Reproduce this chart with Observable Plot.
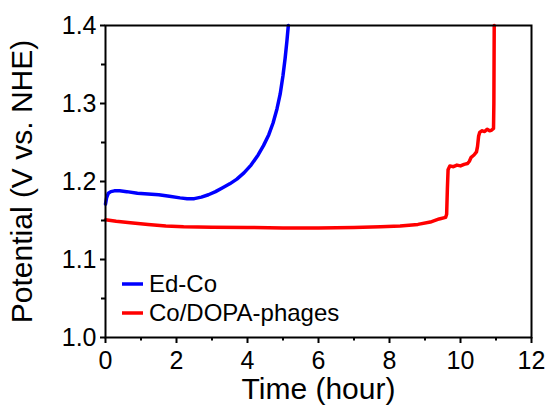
<!DOCTYPE html>
<html>
<head>
<meta charset="utf-8">
<script src="https://cdn.jsdelivr.net/npm/d3@7"></script>
<script src="https://cdn.jsdelivr.net/npm/@observablehq/plot@0.6"></script>
<style>
  html, body { margin: 0; padding: 0; background: #fff; }
  #chart svg { display: block; }
</style>
</head>
<body>
<div id="chart"></div>
<script>
// Chronopotentiometry traces: potential (V vs. NHE) over time (hours)
const edCoTime = [0, 0.03, 0.08, 0.15, 0.25, 0.4, 0.6, 0.9, 1.2, 1.5, 1.8, 2.1, 2.3, 2.5, 2.7, 2.9, 3.1, 3.3, 3.5, 3.7, 3.9, 4.1, 4.3, 4.45, 4.6, 4.72, 4.83, 4.92, 5.0, 5.06, 5.11, 5.15];
const edCoPotential = [1.171, 1.179, 1.185, 1.187, 1.188, 1.188, 1.187, 1.185, 1.184, 1.183, 1.181, 1.179, 1.178, 1.178, 1.180, 1.183, 1.187, 1.192, 1.197, 1.203, 1.211, 1.221, 1.234, 1.246, 1.260, 1.275, 1.293, 1.312, 1.336, 1.358, 1.380, 1.400];

const dopaTime = [0, 0.3, 0.7, 1.2, 1.7, 2.2, 3.0, 4.0, 5.0, 6.0, 7.0, 7.75, 8.3, 8.8, 9.15, 9.4, 9.58, 9.61, 9.63, 9.65, 9.7, 9.8, 9.9, 10.0, 10.1, 10.2, 10.25, 10.3, 10.38, 10.45, 10.48, 10.51, 10.54, 10.6, 10.68, 10.75, 10.82, 10.88, 10.93, 10.94, 10.95];
const dopaPotential = [1.151, 1.149, 1.147, 1.145, 1.143, 1.142, 1.1415, 1.141, 1.1405, 1.1405, 1.141, 1.142, 1.143, 1.145, 1.148, 1.152, 1.154, 1.158, 1.190, 1.215, 1.220, 1.219, 1.221, 1.220, 1.222, 1.223, 1.226, 1.231, 1.234, 1.238, 1.245, 1.258, 1.263, 1.265, 1.264, 1.267, 1.265, 1.266, 1.268, 1.300, 1.400];

const seriesNames = ["Ed-Co", "Co/DOPA-phages"];
const seriesColors = ["#0000ff", "#ff0000"];

const xTicks = [0, 2, 4, 6, 8, 10, 12];
const xMinorTicks = [1, 3, 5, 7, 9, 11];
const yTicks = [1.0, 1.1, 1.2, 1.3, 1.4];
const yMinorTicks = [1.05, 1.15, 1.25, 1.35];

const xTitle = "Time (hour)";
const yTitle = "Potential (V vs. NHE)";

const rows = [
  ...edCoTime.map((t, i) => ({series: seriesNames[0], t, v: edCoPotential[i]})),
  ...dopaTime.map((t, i) => ({series: seriesNames[1], t, v: dopaPotential[i]}))
];

const W = 548, H = 405;
const mL = 105, mR = 17, mT = 25, mB = 68;
const font = "'Liberation Sans', Arial, Helvetica, sans-serif";

const plot = Plot.plot({
  width: W,
  height: H,
  marginLeft: mL,
  marginRight: mR,
  marginTop: mT,
  marginBottom: mB,
  style: {fontFamily: font, background: "#fff", color: "#000", overflow: "visible"},
  x: {domain: [0, 12]},
  y: {domain: [1.0, 1.4]},
  color: {domain: seriesNames, range: seriesColors},
  marks: [
    Plot.line(rows, {x: "t", y: "v", z: "series", stroke: "series", strokeWidth: 3.5, strokeLinejoin: "round"}),
    Plot.frame({stroke: "#000", strokeWidth: 2}),
    Plot.axisX({ticks: xTicks, tickSize: 6, tickPadding: 8, strokeWidth: 2, fontSize: 25, label: null}),
    Plot.axisX({ticks: xMinorTicks, tickSize: 3.5, strokeWidth: 2, tickFormat: () => "", label: null}),
    Plot.axisY({ticks: yTicks, tickSize: 5, tickPadding: 4, strokeWidth: 2, fontSize: 25, tickFormat: d3.format(".1f"), label: null}),
    Plot.axisY({ticks: yMinorTicks, tickSize: 4, strokeWidth: 2, tickFormat: () => "", label: null}),
    Plot.text([xTitle], {text: d => d, frameAnchor: "bottom", dy: 52, lineAnchor: "middle", textAnchor: "middle", fontSize: 30, fill: "#000"}),
    Plot.text([yTitle], {text: d => d, frameAnchor: "left", dx: -83, rotate: -90, lineAnchor: "middle", textAnchor: "middle", fontSize: 30, fill: "#000"})
  ]
});

// Legend in the lower-left corner of the frame
const svg = d3.select(plot);
const legend = svg.append("g").attr("transform", `translate(${mL + 17},${mT + 259})`);
seriesNames.forEach((name, i) => {
  const g = legend.append("g").attr("transform", `translate(0,${i * 29})`);
  g.append("line").attr("x1", 0).attr("x2", 21).attr("y1", 0).attr("y2", 0)
    .attr("stroke", seriesColors[i]).attr("stroke-width", 3.5);
  g.append("text").attr("x", 27).attr("y", 0).attr("dy", "0.35em")
    .attr("text-anchor", "start")
    .attr("font-family", font).attr("font-size", 24).attr("fill", "#000").text(name);
});

document.getElementById("chart").appendChild(plot);
</script>
</body>
</html>
